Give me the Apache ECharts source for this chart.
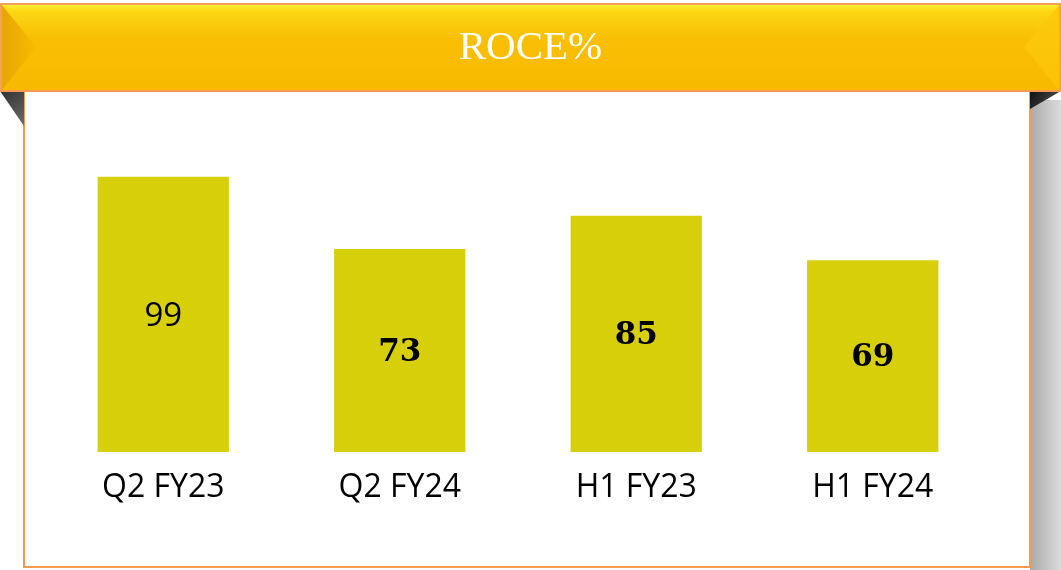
<!DOCTYPE html>
<html>
<head>
<meta charset="utf-8">
<style>
  html, body { margin: 0; padding: 0; background: #ffffff; }
  #main { width: 1061px; height: 570px; }
</style>
<script src="https://cdn.jsdelivr.net/npm/echarts@6/dist/echarts.min.js"></script>
</head>
<body>
<div id="main"></div>
<script>
var chartTitle = "ROCE%";
var categories = ["Q2 FY23", "Q2 FY24", "H1 FY23", "H1 FY24"];
var roceValues = [99, 73, 85, 69];

var myChart = echarts.init(document.getElementById("main"));

// first label is in a sans face, the rest are bold serif like the source slide
var barData = roceValues.map(function (v, i) {
    return {
        value: v,
        label: i === 0
            ? { fontFamily: "Open Sans", fontWeight: "normal", fontSize: 33 }
            : { fontFamily: "DejaVu Serif", fontWeight: "bold", fontSize: 31 }
    };
});

var option = {
    backgroundColor: "#ffffff",
    animation: false,
    graphic: [
        // shadow on the right of the panel
        {
            type: "rect", z: 0,
            shape: { x: 1030, y: 100, width: 31, height: 470 },
            style: { fill: new echarts.graphic.LinearGradient(0, 0, 1, 0, [
                { offset: 0, color: "#a9a9a9" }, { offset: 1, color: "#dcdcdc" }]) }
        },
        // white panel
        {
            type: "rect", z: 1,
            shape: { x: 24, y: 90, width: 1006, height: 477 },
            style: { fill: "#ffffff", stroke: "#f79a4e", lineWidth: 2 }
        },
        // folded corners
        {
            type: "polygon", z: 2,
            shape: { points: [[0, 91], [24, 91], [24, 126]] },
            style: { fill: new echarts.graphic.LinearGradient(0, 0, 1, 1, [
                { offset: 0, color: "#333333" }, { offset: 1, color: "#6a6a6a" }]) }
        },
        {
            type: "polygon", z: 2,
            shape: { points: [[1030, 91], [1061, 91], [1030, 109]] },
            style: { fill: new echarts.graphic.LinearGradient(0, 0, 1, 1, [
                { offset: 0, color: "#111111" }, { offset: 1, color: "#555555" }]) }
        },
        // banner
        {
            type: "rect", z: 3,
            shape: { x: 1, y: 4, width: 1059, height: 87 },
            style: {
                fill: new echarts.graphic.LinearGradient(0, 0, 0, 1, [
                    { offset: 0, color: "#fdf33a" },
                    { offset: 0.1, color: "#fcd612" },
                    { offset: 0.4, color: "#f9bf03" },
                    { offset: 1, color: "#f8b900" }]),
                stroke: "#f2a35a", lineWidth: 2
            }
        },
        // banner bevel ends
        {
            type: "polygon", z: 4,
            shape: { points: [[2, 5], [36, 47], [2, 90]] },
            style: { fill: new echarts.graphic.LinearGradient(0, 0, 1, 0, [
                { offset: 0, color: "#e8a600" }, { offset: 1, color: "#f8bb00" }]) }
        },
        {
            type: "polygon", z: 4,
            shape: { points: [[1059, 5], [1024, 47], [1059, 90]] },
            style: { fill: new echarts.graphic.LinearGradient(0, 0, 0, 1, [
                { offset: 0, color: "#fcca0c" }, { offset: 1, color: "#fbc205" }]) }
        },
        {
            type: "line", z: 4,
            shape: { x1: 1, y1: 91, x2: 1060, y2: 91 },
            style: { stroke: "#f59a55", lineWidth: 2 }
        },
        {
            type: "text", z: 5,
            left: "center", top: 28,
            style: {
                text: chartTitle, fill: "#ffffff",
                font: "41px 'Liberation Serif', 'Times New Roman', serif"
            }
        }
    ],
    grid: {
        left: 45,
        right: 70,
        top: 174,
        bottom: 118,
        containLabel: false
    },
    xAxis: {
        type: "category",
        data: categories,
        axisLine: { show: false },
        axisTick: { show: false },
        axisLabel: {
            color: "#000000",
            fontFamily: "Open Sans",
            fontSize: 32,
            margin: 20
        },
        z: 10
    },
    yAxis: {
        type: "value",
        min: 0,
        max: 100,
        show: false,
        splitLine: { show: false }
    },
    series: [
        {
            name: chartTitle,
            type: "bar",
            data: barData,
            barWidth: "55.5%",
            z: 10,
            itemStyle: { color: "#d7cf0a" },
            label: {
                show: true,
                position: "inside",
                offset: [0, 2],
                color: "#000000"
            }
        }
    ]
};
myChart.setOption(option);
</script>
</body>
</html>
